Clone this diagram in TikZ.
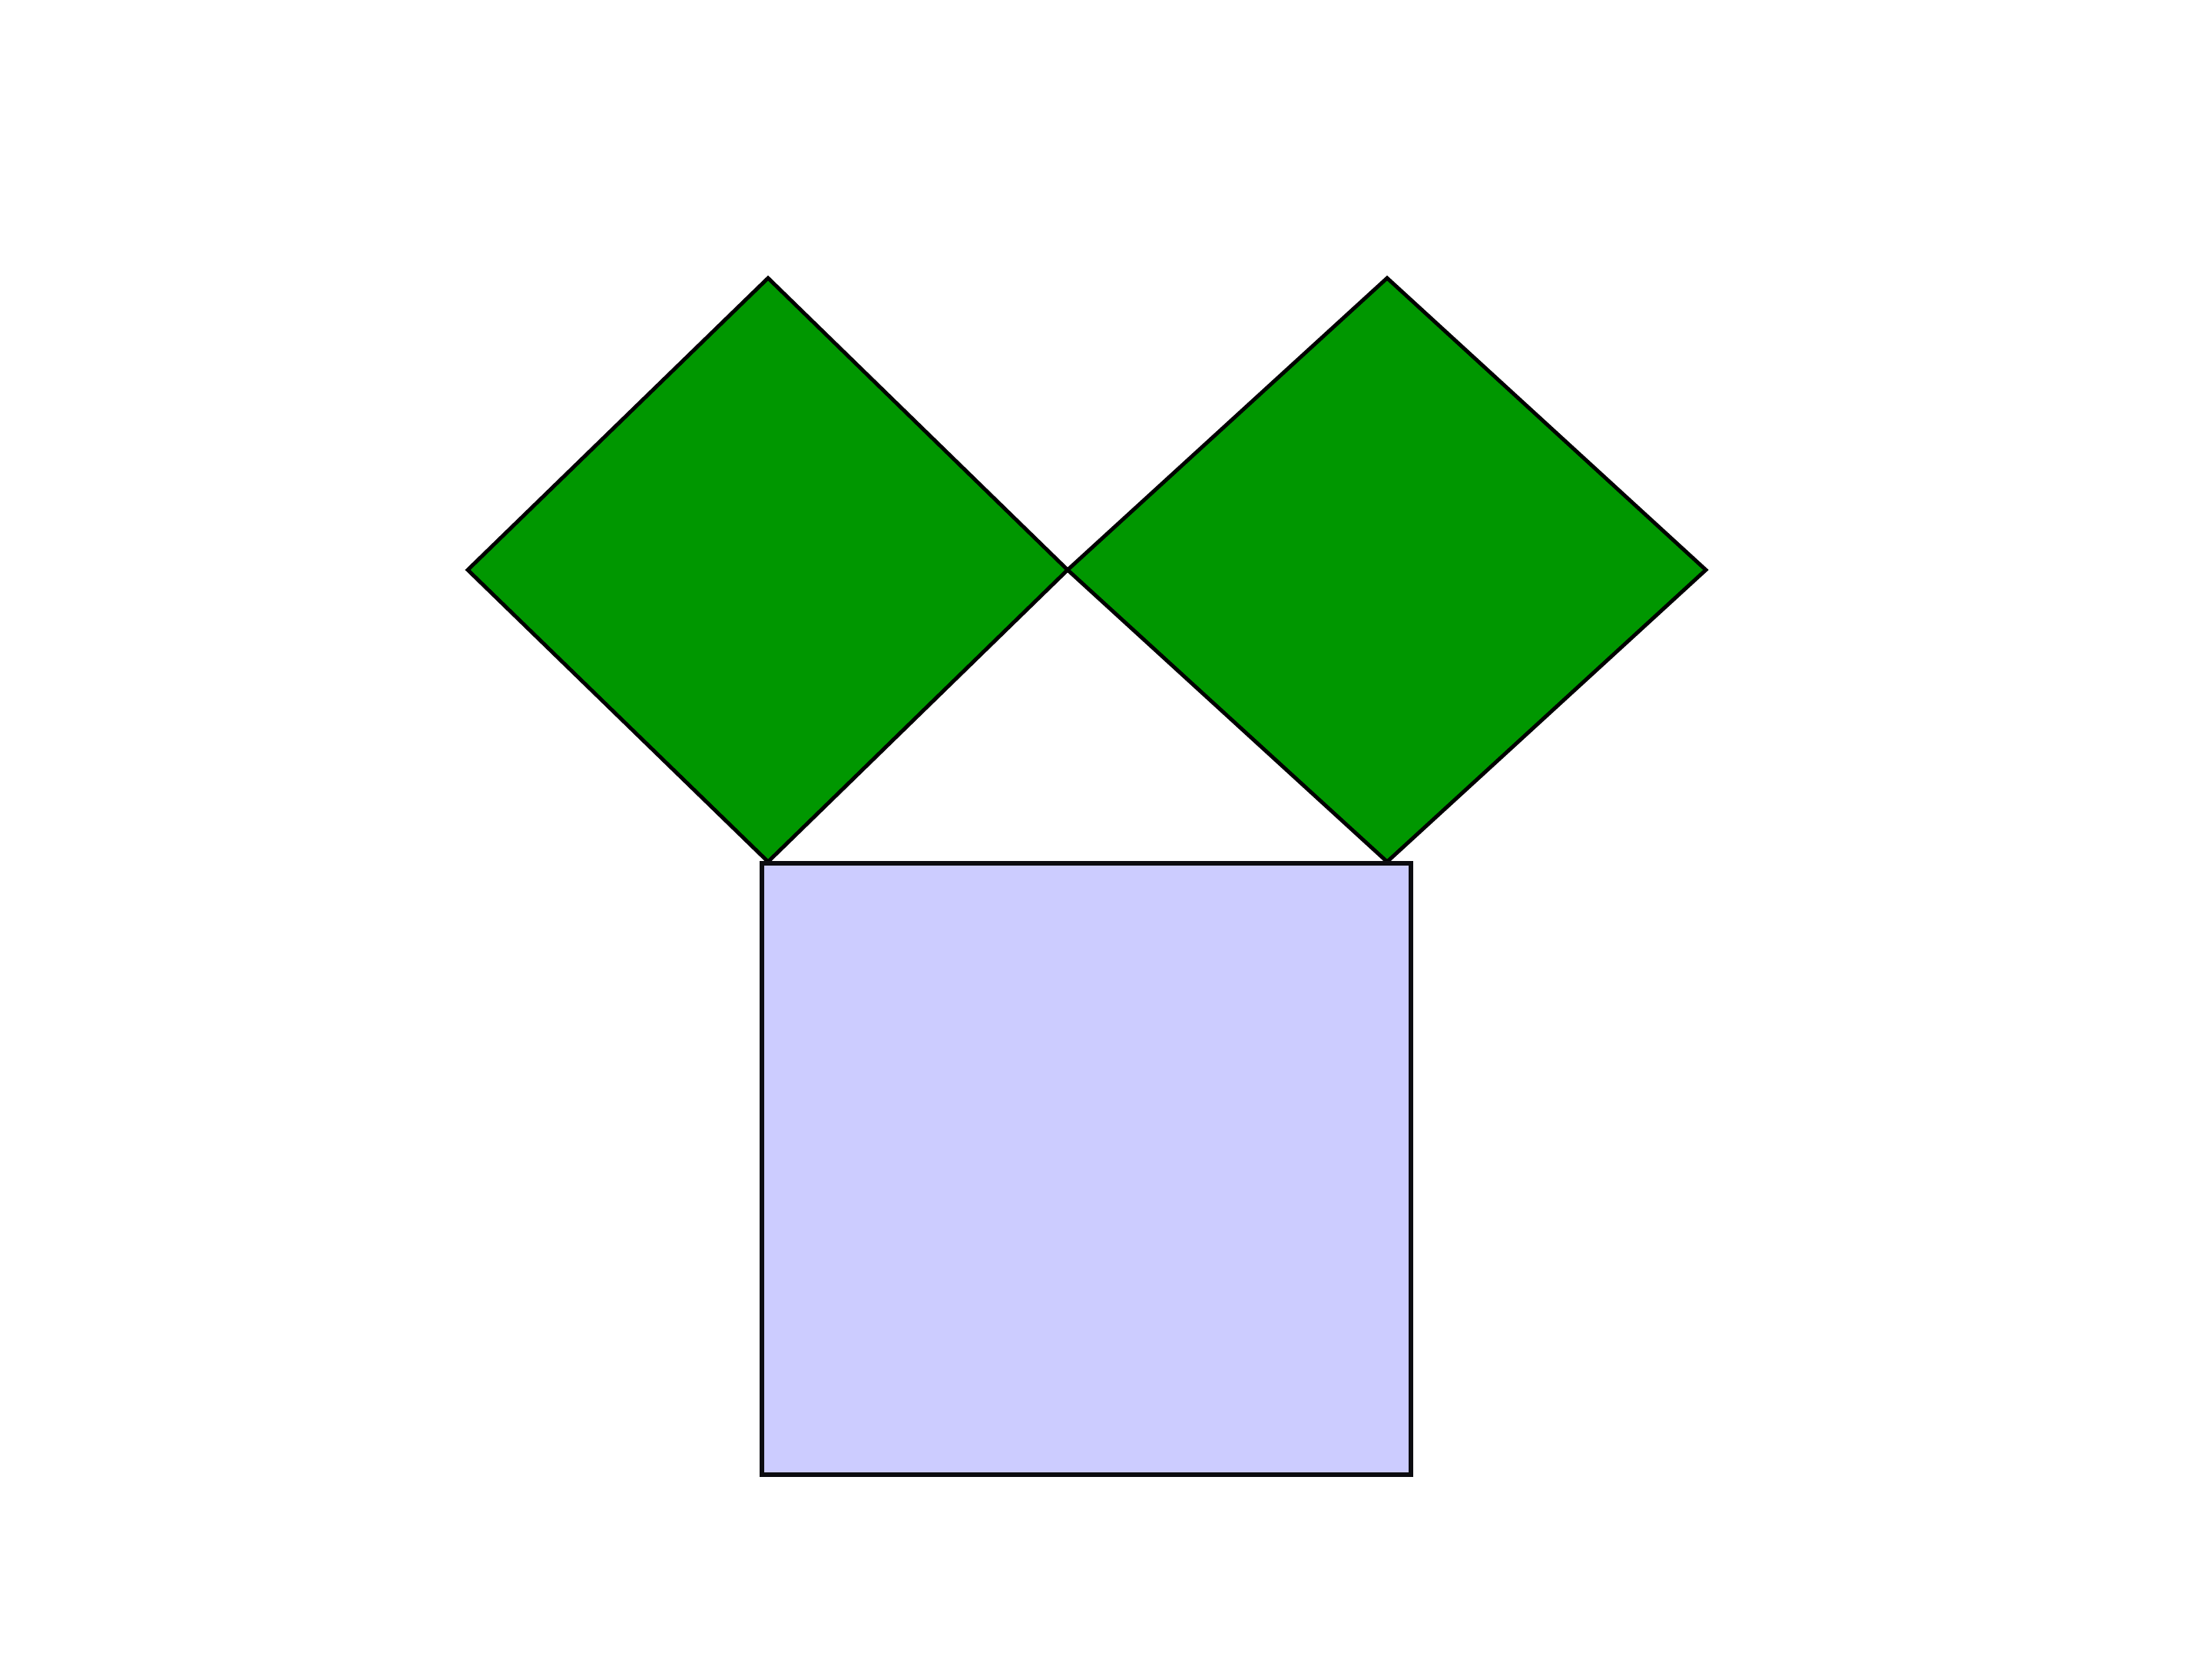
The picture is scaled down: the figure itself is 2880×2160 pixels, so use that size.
\documentclass[tikz,border=0pt]{standalone}
\usepackage{tikz}
\definecolor{sqgreen}{RGB}{0,151,0}
\definecolor{sqblue}{RGB}{204,204,255}
\definecolor{edge}{RGB}{12,12,16}
\tikzset{
  greensq/.style={draw=black, fill=sqgreen, line width=1.4pt, line join=miter},
  bluesq/.style={draw=edge, fill=sqblue, line width=1.5pt, line join=miter}
}
\begin{document}
\begin{tikzpicture}[x=0.01cm,y=-0.01cm]
\useasboundingbox (0,0) rectangle (2880,2160);
\coordinate (L1) at (609,742);
\coordinate (T1) at (1000,362);
\coordinate (C) at (1390,742);
\coordinate (B1) at (1000,1122);
\coordinate (T2) at (1806,362);
\coordinate (R2) at (2221,742);
\coordinate (B2) at (1806,1122);
\coordinate (RA) at (992,1124);
\coordinate (RB) at (1837,1920);
\draw[greensq] (L1) -- (T1) -- (C) -- (B1) -- cycle;
\draw[greensq] (C) -- (T2) -- (R2) -- (B2) -- cycle;
\draw[bluesq] (RA) rectangle (RB);
\end{tikzpicture}
\end{document}
